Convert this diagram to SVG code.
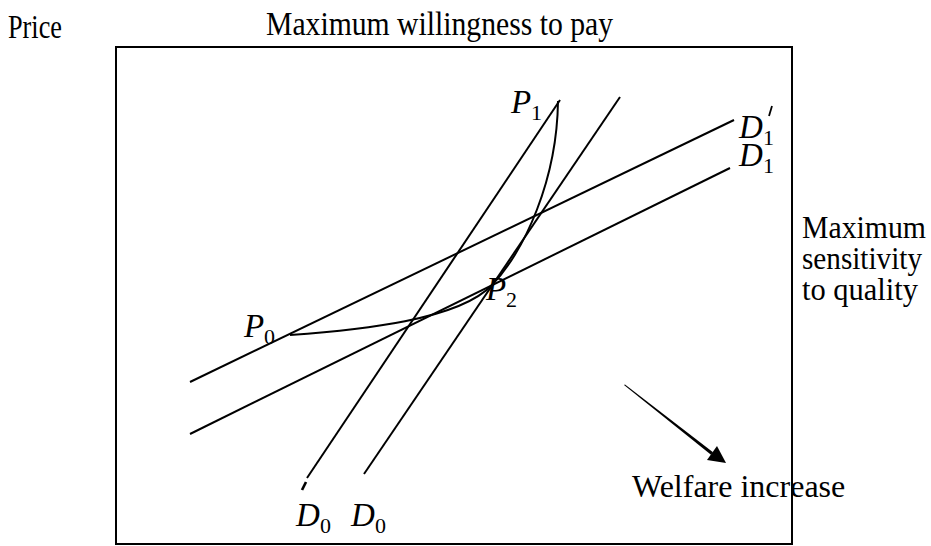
<svg xmlns="http://www.w3.org/2000/svg" width="931" height="546" viewBox="0 0 931 546">
<style>
.lbl{font-family:"Liberation Serif","Times New Roman",serif;font-size:33px;fill:#000}
.side{font-family:"Liberation Serif","Times New Roman",serif;font-size:31px;fill:#000}
.math{font-family:"Liberation Serif","Times New Roman",serif;font-style:italic;font-size:33px;fill:#000}
.sub{font-family:"Liberation Serif","Times New Roman",serif;font-size:22px;fill:#000}
.ln{stroke:#000;stroke-width:2;fill:none}
</style>
<rect width="931" height="546" fill="#fff"/>
<g id="frame">
<rect x="116" y="47" width="676" height="497" class="ln"/>
</g>
<g id="axis-labels">
<text class="lbl" x="8" y="38" textLength="54" lengthAdjust="spacingAndGlyphs">Price</text>
<text class="lbl" x="266" y="35" textLength="347" lengthAdjust="spacingAndGlyphs">Maximum willingness to pay</text>
<text class="side" x="802" y="238" textLength="124" lengthAdjust="spacingAndGlyphs">Maximum</text>
<text class="side" x="802" y="269" textLength="120" lengthAdjust="spacingAndGlyphs">sensitivity</text>
<text class="side" x="802" y="300" textLength="116" lengthAdjust="spacingAndGlyphs">to quality</text>
</g>
<g id="connectors">
<line id="D1p-line" x1="190" y1="382" x2="734" y2="120" class="ln"/>
<line id="D1-line" x1="190" y1="434" x2="730" y2="168" class="ln"/>
<line id="D0p-line" x1="560" y1="100" x2="307" y2="478" class="ln"/>
<line id="D0-line" x1="620" y1="97" x2="364" y2="474" class="ln"/>
<path id="frontier" d="M290,335 C360,330 459,320 492,285 C525,250 557,180 558,101" class="ln"/>
</g>
<g id="D0p-prime">
<line x1="306" y1="482" x2="302" y2="490" stroke="#000" stroke-width="2.6"/>
</g>
<g id="P1"><text class="math" x="511" y="113">P</text><text class="sub" x="531" y="120">1</text></g>
<g id="P2"><text class="math" x="486" y="300">P</text><text class="sub" x="506" y="307">2</text></g>
<g id="P0"><text class="math" x="244" y="337">P</text><text class="sub" x="264" y="344">0</text></g>
<g id="D1p"><text class="math" x="739" y="138">D</text><text class="sub" x="763" y="145">1</text><line x1="772" y1="106" x2="769" y2="116" stroke="#000" stroke-width="1.8"/></g>
<g id="D1"><text class="math" x="739" y="166">D</text><text class="sub" x="763" y="173">1</text></g>
<g id="D0p"><text class="math" x="296" y="526">D</text><text class="sub" x="320" y="533">0</text></g>
<g id="D0"><text class="math" x="351" y="526">D</text><text class="sub" x="375" y="533">0</text></g>
<g id="welfare">
<polygon points="624,385 625,384.4 713,452.2 711,454.8" fill="#000"/>
<polygon points="726,463 707,460 717,446" fill="#000"/>
<text class="lbl" x="632" y="497" style="font-size:32px">Welfare increase</text>
</g>
</svg>
